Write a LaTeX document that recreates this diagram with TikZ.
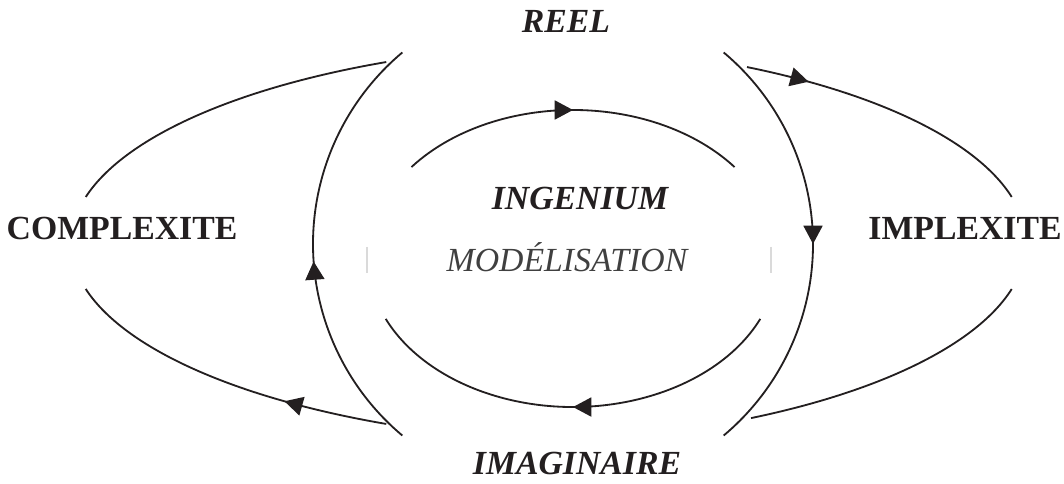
\documentclass[tikz,border=0pt]{standalone}
\usepackage{fontspec}
\setmainfont{Liberation Serif}
\usepackage{tikz}
\usetikzlibrary{arrows.meta,decorations.markings}
\definecolor{MdInk}{HTML}{231F20}
\definecolor{MdGray}{HTML}{404040}
\definecolor{MdTick}{HTML}{DADADA}

\begin{document}
\begin{tikzpicture}[
  x=0.025cm, y=0.025cm,
  mdline/.style={line width=1.3pt, MdInk},
  mdflow/.style={mdline, postaction={decorate}, decoration={markings, mark=at position #1 with {\arrow{Triangle[length=13pt,width=13.5pt]}}}},
  mdword/.style={font=\fontsize{24}{28}\selectfont\bfseries, text=MdInk, inner sep=0pt, anchor=base},
  mdpole/.style={mdword, font=\fontsize{24}{28}\selectfont\bfseries\itshape},
  mdtick/.style={line width=0.8pt, MdTick}
]
\useasboundingbox (0,0) rectangle (1064,484);
% centres of the arcs
\coordinate (cycle) at (563,240);
\coordinate (inner) at (573,225.5);
\coordinate (leftouter) at (620,241);
\coordinate (rightouter) at (494,241);
% labels
\node[mdpole] (reel) at (566,451) {REEL};
\node[mdpole] (imaginaire) at (577,9) {IMAGINAIRE};
\node[mdpole] (ingenium) at (580,274) {INGENIUM};
\node[mdword, font=\fontsize{24}{28}\selectfont\itshape, text=MdGray] (modelisation) at (567,212) {MODÉLISATION};
\node[mdword] (complexite) at (122,244) {COMPLEXITE};
\node[mdword] (implexite) at (965,244) {IMPLEXITE};
% big loop
\draw[mdflow=0.46] ([shift={(230:250)}]cycle) arc[start angle=230, end angle=130, radius=250];
\draw[mdflow=0.5] ([shift={(50:250)}]cycle) arc[start angle=50, end angle=-50, radius=250];
% inner loop
\draw[mdflow=0.5] ([shift={(142:205 and 148.5)}]inner) arc[start angle=142, end angle=38, x radius=205, y radius=148.5];
\draw[mdflow=0.5] ([shift={(-24:205 and 148.5)}]inner) arc[start angle=-24, end angle=-156, x radius=205, y radius=148.5];
% side loops
\draw[mdline] ([shift={(115.2:549 and 200)}]leftouter) arc[start angle=115.2, end angle=166.7, x radius=549, y radius=200];
\draw[mdflow=0.31] ([shift={(244.8:549 and 200)}]leftouter) arc[start angle=244.8, end angle=193.3, x radius=549, y radius=200];
\draw[mdflow=0.21] ([shift={(61.6:532 and 200)}]rightouter) arc[start angle=61.6, end angle=13.3, x radius=532, y radius=200];
\draw[mdline] ([shift={(-61.1:532 and 200)}]rightouter) arc[start angle=-61.1, end angle=-13.3, x radius=532, y radius=200];
% faint marks
\draw[mdtick] (367,237) -- (367,211);
\draw[mdtick] (771,237) -- (771,211);
\end{tikzpicture}
\end{document}
